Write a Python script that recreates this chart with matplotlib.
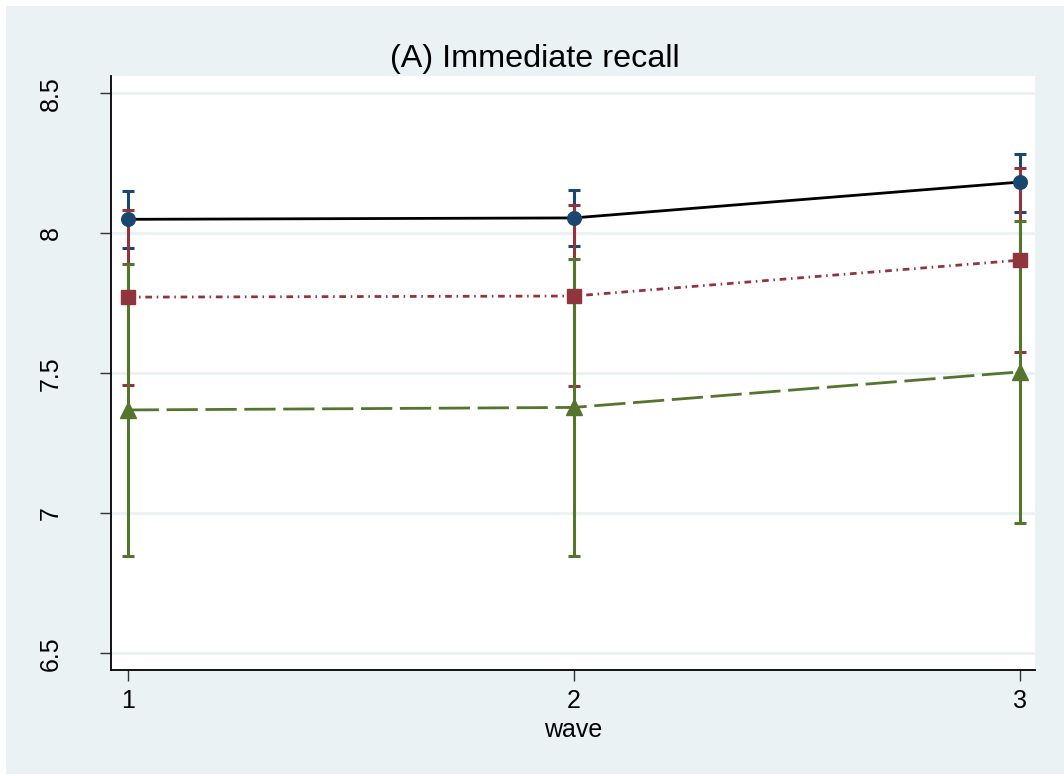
import matplotlib
matplotlib.use("Agg")
import matplotlib.pyplot as plt
from matplotlib.patches import Rectangle

plt.rcParams['font.family'] = ['Liberation Sans', 'DejaVu Sans']
plt.rcParams['lines.scale_dashes'] = False

waves = [1, 2, 3]
xticks = [1, 2, 3]
yticks = [6.5, 7, 7.5, 8, 8.5]
ytick_labels = ["6.5", "7", "7.5", "8", "8.5"]

mean_a = [8.050, 8.055, 8.183]
lo_a = [7.947, 7.954, 8.077]
hi_a = [8.150, 8.156, 8.282]

mean_b = [7.772, 7.776, 7.904]
lo_b = [7.458, 7.455, 7.576]
hi_b = [8.082, 8.100, 8.234]

mean_c = [7.369, 7.378, 7.505]
lo_c = [6.846, 6.846, 6.965]
hi_c = [7.892, 7.910, 8.043]

navy = "#1a476f"
maroon = "#90353b"
green = "#55752f"
bg = "#eaf2f3"

W, H = 1064, 776
fig = plt.figure(figsize=(W / 100, H / 100), dpi=100, facecolor="white")
fig.patches.append(Rectangle((6 / W, 2 / H), (W - 6) / W, (H - 8) / H,
                             transform=fig.transFigure, facecolor=bg,
                             edgecolor="none", zorder=-10))

ax = fig.add_axes([111 / W, (H - 670) / H, (1035 - 111) / W, (670 - 76) / H])
ax.set_facecolor("white")

def ci(lo, hi, color, z):
    ax.vlines(waves, lo, hi, color=color, lw=2.2, zorder=z)
    ax.plot(waves, lo, linestyle="none", marker="_", ms=8.5, mew=2.2, color=color, zorder=z)
    ax.plot(waves, hi, linestyle="none", marker="_", ms=8.5, mew=2.2, color=color, zorder=z)

ci(lo_a, hi_a, navy, 3)
ci(lo_b, hi_b, maroon, 4)
ci(lo_c, hi_c, green, 5)

ax.plot(waves, mean_a, color="black", lw=2.0, zorder=6)
lb, = ax.plot(waves, mean_b, color=maroon, lw=2.0, zorder=6)
lb.set_dashes((4.8, 3.4, 1.1, 3.4))
lc, = ax.plot(waves, mean_c, color=green, lw=2.0, zorder=6)
lc.set_dashes((22.5, 5.5))

ax.plot(waves, mean_a, linestyle="none", marker="o", ms=9.8, color=navy, zorder=7)
ax.plot(waves, mean_b, linestyle="none", marker="s", ms=9.5, color=maroon, zorder=7)
ax.plot(waves, mean_c, linestyle="none", marker="^", ms=11, color=green, zorder=7)

ax.set_xlim(0.9626, 3.0345)
ax.set_ylim(6.44, 8.562)
ax.set_xticks(xticks)
ax.set_xticklabels([str(t) for t in xticks])
ax.set_yticks(yticks)
ax.set_yticklabels(ytick_labels, rotation=90, va="center")
ax.grid(axis="y", color=bg, lw=2.2, zorder=1)
ax.set_axisbelow(True)

for s in ["top", "right"]:
    ax.spines[s].set_visible(False)
for s in ["left", "bottom"]:
    ax.spines[s].set_color("black")
    ax.spines[s].set_linewidth(1.3)

ax.tick_params(axis="y", length=8, width=1, color="#333333", labelsize=18, pad=27)
ax.tick_params(axis="x", length=8, width=1, color="#333333", labelsize=18, pad=6)
ax.set_xlabel("wave", fontsize=18, labelpad=3)

fig.text(535 / W, (H - 66.7) / H, "(A) Immediate recall", ha="center",
         va="baseline", fontsize=23.3)

fig.savefig("out.png", dpi=100, facecolor="white")
